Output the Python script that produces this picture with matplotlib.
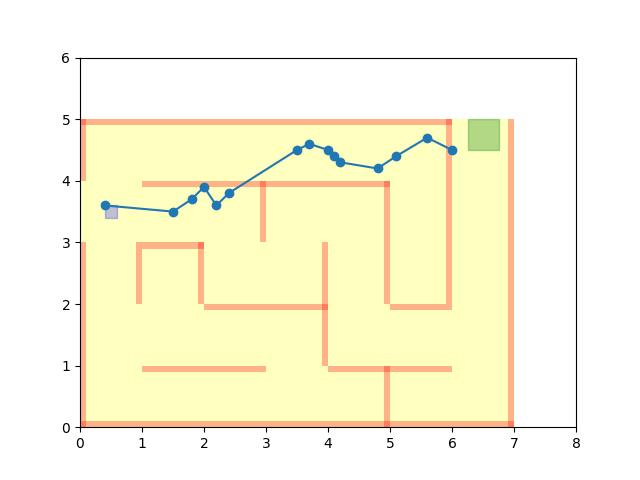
import matplotlib
matplotlib.use("Agg")
import matplotlib.pyplot as plt
from matplotlib.patches import Rectangle

# maze walls: (x0, y0, x1, y1) segments
h_walls = [(0, 5, 6, 5), (0, 0, 7, 0), (1, 4, 5, 4), (1, 3, 2, 3),
           (2, 2, 4, 2), (5, 2, 6, 2), (1, 1, 3, 1), (4, 1, 6, 1)]
v_walls = [(0, 4, 0, 5), (0, 0, 0, 3), (7, 0, 7, 5), (1, 2, 1, 3),
           (2, 2, 2, 3), (3, 3, 3, 4), (4, 1, 4, 3), (5, 2, 5, 4),
           (5, 0, 5, 1), (6, 2, 6, 5)]

start = (0.5, 3.5)
goal = (6.5, 4.75)

path_x = [0.4, 1.5, 1.8, 2.0, 2.2, 2.4, 3.5, 3.7, 4.0, 4.1, 4.2, 4.8, 5.1, 5.6, 6.0]
path_y = [3.6, 3.5, 3.7, 3.9, 3.6, 3.8, 4.5, 4.6, 4.5, 4.4, 4.3, 4.2, 4.4, 4.7, 4.5]

w = 0.1

fig, ax = plt.subplots(figsize=(6.4, 4.8), dpi=100)
ax.add_patch(Rectangle((0, 0), 7, 5, color="yellow", alpha=0.25, lw=0))

for (x0, y0, x1, y1) in h_walls:
    yb = max(y0 - w, 0)
    ax.add_patch(Rectangle((x0, yb), x1 - x0, w, facecolor="red",
                           edgecolor="none", alpha=0.3))
for (x0, y0, x1, y1) in v_walls:
    xb = max(x0 - w, 0)
    ax.add_patch(Rectangle((xb, y0), w, y1 - y0, facecolor="red",
                           edgecolor="none", alpha=0.3))

ax.add_patch(Rectangle((start[0] - 0.1, start[1] - 0.1), 0.2, 0.2, color="blue", alpha=0.25))
ax.add_patch(Rectangle((goal[0] - 0.25, goal[1] - 0.25), 0.5, 0.5, color="green", alpha=0.3))

ax.plot(path_x, path_y, "-o")

ax.set_xlim(0, 8)
ax.set_ylim(0, 6)
fig.savefig("out.png")
